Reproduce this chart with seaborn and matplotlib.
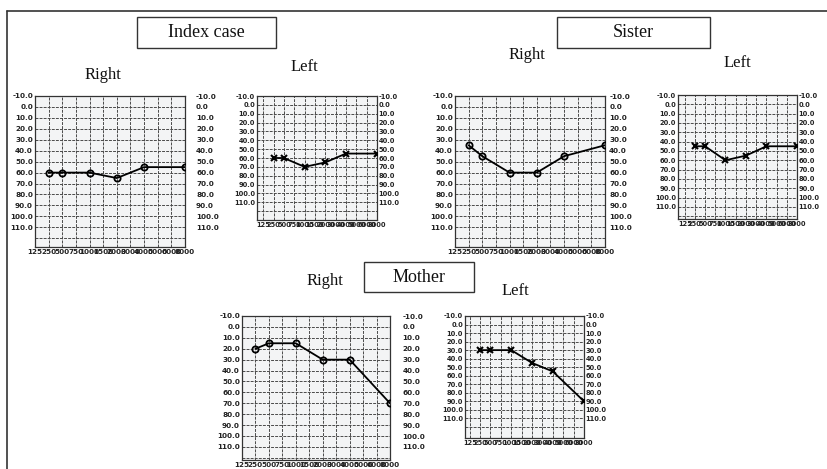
import matplotlib
matplotlib.use("Agg")
import matplotlib.pyplot as plt
import seaborn as sns
import pandas as pd
from matplotlib.patches import Rectangle
from matplotlib.lines import Line2D

# ---------------- data ----------------
freq_labels = ["125", "250", "500", "750", "1000", "1500", "2000",
               "3000", "4000", "5000", "6000", "8000"]
test_freqs = ["250", "500", "1000", "2000", "4000", "8000"]
db_ticks = [-10, 0, 10, 20, 30, 40, 50, 60, 70, 80, 90, 100, 110]

index_right = [60, 60, 60, 65, 55, 55]
index_left = [60, 60, 70, 65, 55, 55]
sister_right = [35, 45, 60, 60, 45, 35]
sister_left = [45, 45, 60, 55, 45, 45]
mother_right = [20, 15, 15, 30, 30, 70]
mother_left = [30, 30, 30, 45, 55, 90]

# ---------------- style ----------------
sns.set_theme(style="white")
plt.rcParams["font.family"] = ["DejaVu Sans"]

W, H = 827, 469
fig = plt.figure(figsize=(W / 100, H / 100), dpi=100)
fig.patch.set_facecolor("white")


def fx(x):
    return x / W


def fy(y):
    return 1 - y / H


# layout of each audiogram: pixel box (x0, y0, x1, y1), x-left limit, y-bottom limit, right label pad
panels = [
    dict(vals=index_right, box=(35, 96, 185, 247), xl=0.0, yb=128, rpad=8, marker="o", fs=5.2),
    dict(vals=index_left, box=(257, 96, 377, 220), xl=-0.6, yb=130, rpad=1, marker="x", fs=4.8),
    dict(vals=sister_right, box=(455, 96, 605, 247), xl=0.0, yb=128, rpad=3, marker="o", fs=5.2),
    dict(vals=sister_left, box=(678, 95, 797, 219), xl=-0.65, yb=123, rpad=1, marker="x", fs=4.8),
    dict(vals=mother_right, box=(242, 316, 390, 460), xl=0.0, yb=122, rpad=9, marker="o", fs=5.2),
    dict(vals=mother_left, box=(465, 316, 584, 438), xl=-0.45, yb=133, rpad=1, marker="x", fs=4.8),
]

grid_color = "#4a4a4a"
for p in panels:
    x0, y0, x1, y1 = p["box"]
    ax = fig.add_axes([fx(x0), fy(y1), fx(x1 - x0), (y1 - y0) / H])
    ax.set_facecolor("#f3f4f5")
    df = pd.DataFrame({
        "pos": [freq_labels.index(f) for f in test_freqs],
        "db": p["vals"],
    })
    if p["marker"] == "o":
        sns.lineplot(data=df, x="pos", y="db", ax=ax, color="black", lw=1.3,
                     marker="o", markersize=4.5, markerfacecolor="none",
                     markeredgecolor="black", markeredgewidth=1.3, zorder=5)
    else:
        sns.lineplot(data=df, x="pos", y="db", ax=ax, color="black", lw=1.3,
                     marker="x", markersize=5, markeredgecolor="black",
                     markeredgewidth=1.5, zorder=5)
    ax.set_xlim(p["xl"], 11)
    ax.set_ylim(p["yb"], -10)
    ax.set_xlabel("")
    ax.set_ylabel("")
    ax.set_xticks(range(len(freq_labels)))
    ax.set_xticklabels(freq_labels, fontsize=p["fs"], fontweight="bold", color="#222")
    ax.set_yticks(db_ticks + [120])
    ax.set_yticklabels([f"{v:.1f}" for v in db_ticks] + [""], fontsize=p["fs"],
                       fontweight="bold", color="#222")
    ax.tick_params(length=0, pad=1.5)
    ax.grid(True, color=grid_color, lw=0.7, ls=(0, (3, 1.2)))
    for s in ax.spines.values():
        s.set_visible(True)
        s.set_color("#333")
        s.set_linewidth(0.9)
    tw = ax.twinx()
    tw.set_ylim(p["yb"], -10)
    tw.set_yticks(db_ticks)
    tw.set_yticklabels([f"{v:.1f}" for v in db_ticks], fontsize=p["fs"],
                       fontweight="bold", color="#222")
    tw.tick_params(length=0, pad=p["rpad"])
    tw.grid(False)
    for s in tw.spines.values():
        s.set_visible(False)

# ---------------- titles ----------------
serif = ["Liberation Serif", "DejaVu Serif"]
boxes = [
    ("Index case", (137, 17, 276, 48)),
    ("Sister", (557, 17, 710, 48)),
    ("Mother", (364, 262, 474, 292)),
]
for txt, (bx0, by0, bx1, by1) in boxes:
    fig.add_artist(Rectangle((fx(bx0), fy(by1)), fx(bx1 - bx0), (by1 - by0) / H,
                             transform=fig.transFigure, fill=False,
                             edgecolor="#333", lw=1.0))
    fig.text(fx((bx0 + bx1) / 2), fy((by0 + by1) / 2), txt, family=serif,
             fontsize=13, ha="center", va="center", color="#111")

side_labels = [
    ("Right", 103, 75), ("Left", 304, 67),
    ("Right", 527, 55), ("Left", 737, 63),
    ("Right", 325, 281), ("Left", 515, 291),
]
for txt, x, y in side_labels:
    fig.text(fx(x), fy(y), txt, family=serif, fontsize=12, ha="center",
             va="center", color="#111")

# ---------------- frame ----------------
fig.add_artist(Line2D([fx(7), fx(7)], [0, fy(11)], transform=fig.transFigure,
                      color="#333", lw=1.2))
fig.add_artist(Line2D([fx(7), 1], [fy(11), fy(11)], transform=fig.transFigure,
                      color="#333", lw=1.2))

fig.savefig("out.png", dpi=100, facecolor="white")
